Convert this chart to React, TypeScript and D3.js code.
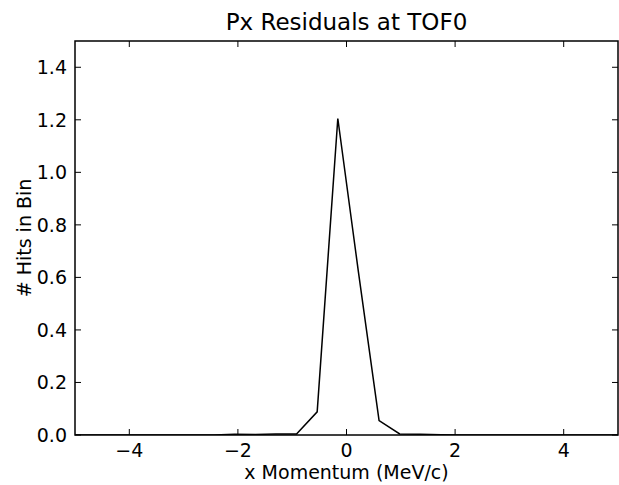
import React from "react";
import * as d3 from "d3";

const binCenters = [-5.0, -2.44, -2.06, -1.68, -1.30, -0.92, -0.54, -0.16, 0.22, 0.60, 0.98, 1.36, 1.74, 2.12, 5.0];
const hitCounts = [0, 0, 0.003, 0.002, 0.004, 0.004, 0.088, 1.205, 0.62, 0.055, 0.004, 0.003, 0.001, 0, 0];
const xTicks = [-4, -2, 0, 2, 4];
const yTicks = [0, 0.2, 0.4, 0.6, 0.8, 1.0, 1.2, 1.4];

const W = 619, H = 485;
const M = { left: 75, right: 1, top: 41, bottom: 50 };
const FONT = "DejaVu Sans, sans-serif";

export default function App() {
  const x = d3.scaleLinear().domain([-5, 5]).range([M.left, W - M.right]);
  const y = d3.scaleLinear().domain([0, 1.5]).range([H - M.bottom, M.top]);
  const pts: [number, number][] = binCenters.map((c, i) => [c, hitCounts[i]]);
  const line = d3.line<[number, number]>().x(d => x(d[0])).y(d => y(d[1]));
  const x0 = M.left, x1 = W - M.right, y0 = H - M.bottom, y1 = M.top;
  const fmtX = (v: number) => (v < 0 ? "\u2212" + Math.abs(v) : String(v));
  return (
    <svg width={W} height={H} style={{ position: "absolute", left: 0, top: 0, background: "#fff" }}>
      <rect x={0} y={0} width={W} height={H} fill="#fff" />
      <defs>
        <clipPath id="plot"><rect x={x0} y={y1} width={x1 - x0} height={y0 - y1} /></clipPath>
      </defs>
      <path d={line(pts) || ""} fill="none" stroke="#000" strokeWidth={1.5} clipPath="url(#plot)" strokeLinejoin="miter" />
      {xTicks.map(t => (
        <g key={"x" + t}>
          <line x1={x(t)} x2={x(t)} y1={y0} y2={y0 - 6} stroke="#000" strokeWidth={1} />
          <line x1={x(t)} x2={x(t)} y1={y1} y2={y1 + 6} stroke="#000" strokeWidth={1} />
          <text x={x(t)} y={y0 + 22} textAnchor="middle" fontFamily={FONT} fontSize={19}>{fmtX(t)}</text>
        </g>
      ))}
      {yTicks.map(t => (
        <g key={"y" + t}>
          <line x1={x0} x2={x0 + 6} y1={y(t)} y2={y(t)} stroke="#000" strokeWidth={1} />
          <line x1={x1} x2={x1 - 6} y1={y(t)} y2={y(t)} stroke="#000" strokeWidth={1} />
          <text x={x0 - 8} y={y(t)} dy="0.36em" textAnchor="end" fontFamily={FONT} fontSize={19}>{t.toFixed(1)}</text>
        </g>
      ))}
      <rect x={x0} y={y1} width={x1 - x0} height={y0 - y1} fill="none" stroke="#000" strokeWidth={1.5} />
      <text x={(x0 + x1) / 2} y={30} textAnchor="middle" fontFamily={FONT} fontSize={23}>Px Residuals at TOF0</text>
      <text x={(x0 + x1) / 2} y={479} textAnchor="middle" fontFamily={FONT} fontSize={19}>x Momentum (MeV/c)</text>
      <text transform={`translate(31, ${(y0 + y1) / 2}) rotate(-90)`} textAnchor="middle" fontFamily={FONT} fontSize={19}>
        # Hits in Bin
      </text>
    </svg>
  );
}
